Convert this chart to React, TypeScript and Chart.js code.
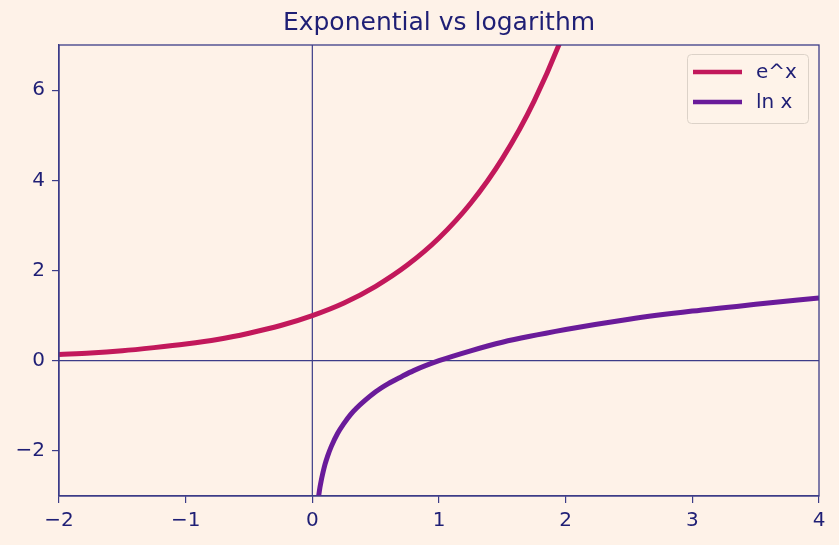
import React, { useEffect, useRef } from "react";
import { Chart, registerables } from "chart.js";

Chart.register(...registerables);

const expX = [-2, -1.75, -1.5, -1.25, -1, -0.75, -0.5, -0.25, 0, 0.25, 0.5, 0.75, 1, 1.25, 1.5, 1.75, 2, 2.25];
const expY = [0.14, 0.17, 0.22, 0.29, 0.37, 0.47, 0.61, 0.78, 1.0, 1.28, 1.65, 2.12, 2.72, 3.49, 4.48, 5.75, 7.39, 9.49];
const lnX = [0.04, 0.05, 0.06, 0.07, 0.08, 0.1, 0.12, 0.15, 0.2, 0.25, 0.3, 0.35, 0.4, 0.5, 0.6, 0.7, 0.8, 1, 1.25, 1.5, 2, 2.5, 3, 3.5, 4];
const lnY = [-3.22, -3.0, -2.81, -2.66, -2.53, -2.3, -2.12, -1.9, -1.61, -1.39, -1.2, -1.05, -0.92, -0.69, -0.51, -0.36, -0.22, 0, 0.22, 0.41, 0.69, 0.92, 1.1, 1.25, 1.39];
const xTicks = [-2, -1, 0, 1, 2, 3, 4];
const yTicks = [-2, 0, 2, 4, 6];
const seriesNames = ["e^x", "ln x"];
const title = "Exponential vs logarithm";

const BG = "#fef2e8";
const NAVY = "#1f1f75";
const SPINE = "#3c3c88";
const C1 = "#c2185b";
const C2 = "#6a1b9a";
const FONT = "'DejaVu Sans', sans-serif";

const fmt = (v: number) => (v < 0 ? "\u2212" + Math.abs(v) : String(v));

const extras = {
  id: "extras",
  beforeDatasetsDraw(chart: any) {
    const { ctx, chartArea, scales } = chart;
    const x0 = scales.x.getPixelForValue(0);
    const y0 = scales.y.getPixelForValue(0);
    ctx.save();
    ctx.strokeStyle = SPINE;
    ctx.lineWidth = 1.2;
    ctx.beginPath();
    ctx.moveTo(x0, chartArea.top);
    ctx.lineTo(x0, chartArea.bottom);
    ctx.moveTo(chartArea.left, y0);
    ctx.lineTo(chartArea.right, y0);
    ctx.stroke();
    ctx.restore();
  },
  afterDraw(chart: any) {
    const { ctx, chartArea } = chart;
    ctx.save();
    // frame (spines)
    ctx.strokeStyle = SPINE;
    ctx.lineWidth = 1.3;
    ctx.strokeRect(chartArea.left, chartArea.top, chartArea.right - chartArea.left, chartArea.bottom - chartArea.top);
    // title
    ctx.fillStyle = NAVY;
    ctx.font = `25px ${FONT}`;
    ctx.textAlign = "center";
    ctx.textBaseline = "middle";
    ctx.fillText(title, (chartArea.left + chartArea.right) / 2, 23);
    // legend
    const bx = 687, by = 54, bw = 121, bh = 69;
    ctx.fillStyle = "rgba(254,242,232,0.8)";
    ctx.strokeStyle = "#dcd2c8";
    ctx.lineWidth = 1;
    ctx.beginPath();
    (ctx as any).roundRect(bx + 0.5, by + 0.5, bw, bh, 4);
    ctx.fill();
    ctx.stroke();
    const colors = [C1, C2];
    ctx.font = `20px ${FONT}`;
    ctx.textAlign = "left";
    seriesNames.forEach((n, i) => {
      const yy = by + 18 + i * 30;
      ctx.strokeStyle = colors[i];
      ctx.lineWidth = 4.5;
      ctx.beginPath();
      ctx.moveTo(693, yy);
      ctx.lineTo(742, yy);
      ctx.stroke();
      ctx.fillStyle = NAVY;
      ctx.fillText(n, 756, yy + 1);
    });
    ctx.restore();
  },
};

export default function App() {
  const ref = useRef<HTMLCanvasElement>(null);
  useEffect(() => {
    document.body.style.margin = "0";
    const chart = new Chart(ref.current!, {
      type: "line",
      data: {
        datasets: [
          {
            label: seriesNames[0],
            data: expX.map((x, i) => ({ x, y: expY[i] })),
            borderColor: C1,
            borderWidth: 5,
            pointRadius: 0,
            cubicInterpolationMode: "monotone",
          },
          {
            label: seriesNames[1],
            data: lnX.map((x, i) => ({ x, y: lnY[i] })),
            borderColor: C2,
            borderWidth: 5,
            pointRadius: 0,
            cubicInterpolationMode: "monotone",
          },
        ],
      },
      options: {
        animation: false,
        responsive: false,
        layout: { padding: { top: 45, right: 20, left: 0, bottom: 0 } },
        plugins: { legend: { display: false }, title: { display: false }, tooltip: { enabled: false } },
        scales: {
          x: {
            type: "linear",
            min: -2,
            max: 4,
            afterBuildTicks: (s: any) => { s.ticks = xTicks.map((v) => ({ value: v })); },
            afterFit: (s: any) => { s.height = 49; },
            grid: { drawOnChartArea: false, color: SPINE, tickLength: 7, lineWidth: 1.2 },
            border: { color: SPINE, width: 1.3 },
            ticks: { color: NAVY, font: { family: FONT, size: 20 }, padding: 6, maxRotation: 0, callback: (v: any) => fmt(v) },
          },
          y: {
            type: "linear",
            min: -3,
            max: 7,
            afterBuildTicks: (s: any) => { s.ticks = yTicks.map((v) => ({ value: v })); },
            afterFit: (s: any) => { s.width = 59; },
            grid: { drawOnChartArea: false, color: SPINE, tickLength: 7, lineWidth: 1.2 },
            border: { color: SPINE, width: 1.3 },
            ticks: { color: NAVY, font: { family: FONT, size: 20 }, padding: 7, callback: (v: any) => fmt(v) },
          },
        },
      },
      plugins: [extras],
    } as any);
    return () => chart.destroy();
  }, []);
  return (
    <div style={{ width: 839, height: 545, background: BG }}>
      <canvas ref={ref} width={839} height={545} style={{ display: "block" }} />
    </div>
  );
}
